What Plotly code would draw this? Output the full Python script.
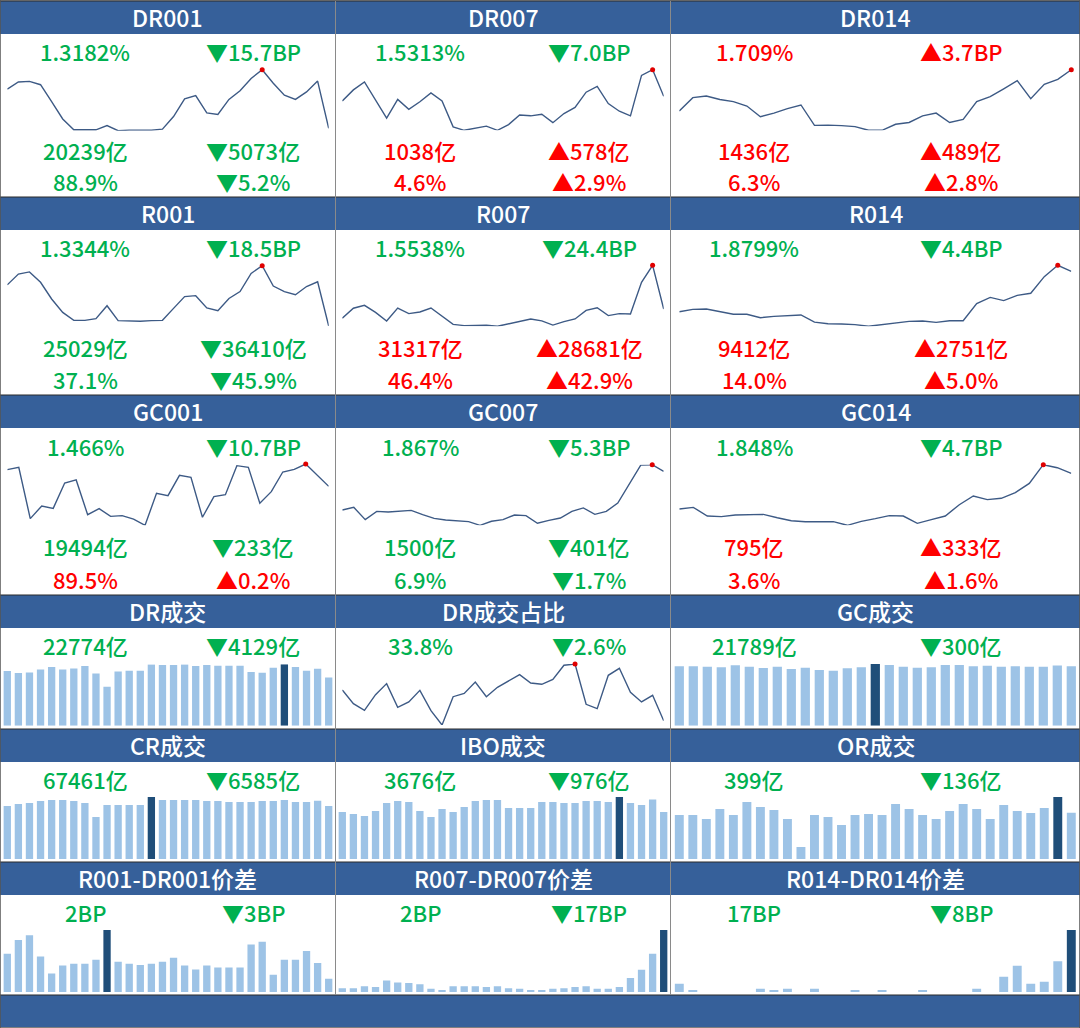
import plotly.graph_objects as go

W, H = 1080, 1028

# ---------------- data ----------------
titles = [["DR001", "DR007", "DR014"],
          ["R001", "R007", "R014"],
          ["GC001", "GC007", "GC014"],
          ["DR成交", "DR成交占比", "GC成交"],
          ["CR成交", "IBO成交", "OR成交"],
          ["R001-DR001价差", "R007-DR007价差", "R014-DR014价差"]]

dr001 = [1.448, 1.472, 1.474, 1.463, 1.407, 1.349, 1.313, 1.313, 1.313, 1.327,
         1.310, 1.312, 1.312, 1.312, 1.315, 1.357, 1.416, 1.427, 1.369, 1.364,
         1.414, 1.443, 1.484, 1.513, 1.468, 1.428, 1.414, 1.439, 1.475, 1.3182]
dr007 = [1.519, 1.548, 1.569, 1.522, 1.474, 1.523, 1.497, 1.517, 1.540, 1.519,
         1.451, 1.442, 1.447, 1.453, 1.442, 1.457, 1.482, 1.480, 1.484, 1.462,
         1.486, 1.502, 1.542, 1.557, 1.512, 1.492, 1.480, 1.586, 1.601, 1.5313]
dr014 = [1.551, 1.602, 1.608, 1.595, 1.587, 1.570, 1.529, 1.543, 1.560, 1.574,
         1.496, 1.497, 1.495, 1.491, 1.477, 1.477, 1.500, 1.507, 1.532, 1.543,
         1.507, 1.519, 1.587, 1.606, 1.636, 1.667, 1.598, 1.653, 1.672, 1.709]
r001 = [1.506, 1.551, 1.560, 1.517, 1.447, 1.391, 1.358, 1.358, 1.365, 1.419,
        1.357, 1.354, 1.354, 1.357, 1.358, 1.408, 1.457, 1.461, 1.410, 1.398,
        1.449, 1.478, 1.554, 1.586, 1.501, 1.478, 1.465, 1.499, 1.519, 1.3344]
r007 = [1.502, 1.558, 1.574, 1.535, 1.487, 1.559, 1.528, 1.537, 1.559, 1.515,
        1.468, 1.461, 1.463, 1.463, 1.457, 1.472, 1.487, 1.498, 1.487, 1.464,
        1.483, 1.498, 1.546, 1.561, 1.517, 1.528, 1.526, 1.703, 1.798, 1.5538]
r014 = [1.584, 1.601, 1.604, 1.584, 1.565, 1.565, 1.540, 1.550, 1.555, 1.560,
        1.508, 1.496, 1.494, 1.489, 1.477, 1.489, 1.501, 1.513, 1.516, 1.506,
        1.518, 1.518, 1.643, 1.689, 1.665, 1.704, 1.719, 1.841, 1.924, 1.8799]
gc001 = [1.628, 1.651, 1.152, 1.275, 1.252, 1.498, 1.528, 1.190, 1.249, 1.174,
         1.181, 1.148, 1.087, 1.398, 1.375, 1.573, 1.554, 1.165, 1.366, 1.385,
         1.667, 1.651, 1.301, 1.414, 1.605, 1.631, 1.683, 1.573, 1.466]
gc007 = [1.560, 1.581, 1.483, 1.549, 1.544, 1.549, 1.557, 1.523, 1.493, 1.480,
         1.472, 1.467, 1.438, 1.470, 1.483, 1.520, 1.515, 1.454, 1.477, 1.496,
         1.549, 1.576, 1.525, 1.549, 1.615, 1.769, 1.917, 1.920, 1.867]
gc014 = [1.552, 1.566, 1.494, 1.489, 1.502, 1.502, 1.508, 1.480, 1.455, 1.447,
         1.447, 1.447, 1.417, 1.450, 1.472, 1.497, 1.494, 1.433, 1.464, 1.494,
         1.588, 1.660, 1.630, 1.641, 1.688, 1.765, 1.920, 1.895, 1.848]
dr_share = [36.95, 35.54, 34.86, 36.47, 37.60, 35.17, 35.72, 36.91, 34.83, 33.36,
            36.26, 36.60, 37.77, 36.26, 37.22, 37.90, 38.52, 37.66, 37.53, 38.04,
            39.48, 39.61, 35.48, 35.03, 38.45, 39.17, 36.71, 35.72, 36.40, 33.80]

dr_vol = [25748, 24806, 25120, 26533, 27632, 26533, 27004, 28103, 24649, 18369,
          25591, 25905, 25905, 28888, 28574, 28574, 28888, 28103, 28574, 28260,
          28260, 28260, 25277, 24963, 27318, 28950, 27632, 25905, 26903, 22774]
gc_vol = [21787, 21787, 21665, 21420, 22154, 21665, 21175, 21665, 20808, 21298,
          20441, 20196, 21053, 21420, 22644, 22277, 21665, 21298, 21420, 22277,
          22277, 21787, 22032, 21665, 21787, 21665, 21665, 22089, 21789]
cr_vol = [67470, 70015, 71288, 73834, 75107, 75107, 73834, 71288, 53466, 68742,
          68742, 68742, 68742, 78926, 75107, 75107, 75107, 75107, 73834, 73834,
          72561, 72561, 72561, 73834, 73834, 75107, 72561, 72561, 74046, 67461]
ibo_vol = [3675, 3519, 3363, 3754, 4379, 4536, 4457, 3754, 3284, 3910,
           3675, 4066, 4536, 4614, 4614, 3988, 3988, 3988, 4457, 4457,
           4379, 4379, 4536, 4536, 4457, 4848, 4379, 4223, 4652, 3676]
or_vol = [380, 380, 345, 432, 380, 492, 449, 423, 345, 104,
          380, 362, 293, 380, 388, 380, 475, 432, 380, 345,
          414, 475, 432, 345, 466, 414, 397, 440, 535, 399]
spr_1 = [5.8, 7.9, 8.6, 5.4, 2.8, 4.0, 4.3, 4.3, 4.9, 9.4,
         4.6, 4.3, 4.1, 4.3, 4.6, 5.2, 4.0, 3.4, 4.0, 3.7,
         3.7, 3.7, 7.2, 7.6, 2.6, 4.9, 4.9, 6.2, 4.4, 2.0]
spr_7 = [0.6, 0.6, 0.9, 0.8, 1.8, 1.5, 1.4, 1.2, 0.5, 0.3,
         0.9, 0.9, 0.9, 0.8, 0.9, 0.6, 0.5, 0.2, 0.3, 0.5,
         0.6, 0.8, 0.9, 0.5, 0.5, 0.8, 2.2, 3.5, 6.0, 9.7]
spr_14 = [1.3, 0.2, 0.0, 0.0, 0.0, 0.0, 0.5, 0.3, 0.5, 0.0,
          0.5, 0.0, 0.0, 0.3, 0.0, 0.2, 0.0, 0.0, 0.3, 0.0,
          0.0, 0.0, 0.5, 0.0, 2.4, 4.1, 1.3, 1.6, 4.8, 9.7]

# labels: (text, colour) -> 'g' green, 'r' red
labels = {
    (0, 0): [("1.3182%", "g"), ("▼15.7BP", "g"), ("20239亿", "g"), ("▼5073亿", "g"), ("88.9%", "g"), ("▼5.2%", "g")],
    (0, 1): [("1.5313%", "g"), ("▼7.0BP", "g"), ("1038亿", "r"), ("▲578亿", "r"), ("4.6%", "r"), ("▲2.9%", "r")],
    (0, 2): [("1.709%", "r"), ("▲3.7BP", "r"), ("1436亿", "r"), ("▲489亿", "r"), ("6.3%", "r"), ("▲2.8%", "r")],
    (1, 0): [("1.3344%", "g"), ("▼18.5BP", "g"), ("25029亿", "g"), ("▼36410亿", "g"), ("37.1%", "g"), ("▼45.9%", "g")],
    (1, 1): [("1.5538%", "g"), ("▼24.4BP", "g"), ("31317亿", "r"), ("▲28681亿", "r"), ("46.4%", "r"), ("▲42.9%", "r")],
    (1, 2): [("1.8799%", "g"), ("▼4.4BP", "g"), ("9412亿", "r"), ("▲2751亿", "r"), ("14.0%", "r"), ("▲5.0%", "r")],
    (2, 0): [("1.466%", "g"), ("▼10.7BP", "g"), ("19494亿", "g"), ("▼233亿", "g"), ("89.5%", "r"), ("▲0.2%", "r")],
    (2, 1): [("1.867%", "g"), ("▼5.3BP", "g"), ("1500亿", "g"), ("▼401亿", "g"), ("6.9%", "g"), ("▼1.7%", "g")],
    (2, 2): [("1.848%", "g"), ("▼4.7BP", "g"), ("795亿", "r"), ("▲333亿", "r"), ("3.6%", "r"), ("▲1.6%", "r")],
    (3, 0): [("22774亿", "g"), ("▼4129亿", "g")],
    (3, 1): [("33.8%", "g"), ("▼2.6%", "g")],
    (3, 2): [("21789亿", "g"), ("▼300亿", "g")],
    (4, 0): [("67461亿", "g"), ("▼6585亿", "g")],
    (4, 1): [("3676亿", "g"), ("▼976亿", "g")],
    (4, 2): [("399亿", "g"), ("▼136亿", "g")],
    (5, 0): [("2BP", "g"), ("▼3BP", "g")],
    (5, 1): [("2BP", "g"), ("▼17BP", "g")],
    (5, 2): [("17BP", "g"), ("▼8BP", "g")],
}

# ---------------- style / layout ----------------
GREEN = "#00B050"
RED = "#FF0000"
HEAD = "#36609A"
LINEC = "#3D5A85"
LIGHT = "#9DC3E6"
DARK = "#1F4E79"
FONT = "Noto Sans CJK SC"

cols = [(0, 335), (336, 670), (671, 1080)]
text_x = [(85, 253), (420, 589), (754, 961)]
head_rows = [(1, 34), (197, 230), (395, 428), (595, 628), (729, 762), (862, 895)]
text_rows = [(50.5, 149.5, 180.5), (246.5, 346.5, 378.5), (445.5, 545.5, 578.5),
             (644.5,), (778.5,), (911.5,)]
line_x = [(7.3, 328.7), (342.3, 663.7), (679.3, 1071.3)]

fig = go.Figure()
axn = [0]


def px(x):
    return x / W


def py(y):
    return 1 - y / H


def new_axes(xdom, ydom, xr, yr):
    axn[0] += 1
    k = axn[0]
    s = "" if k == 1 else str(k)
    fig.update_layout(**{
        "xaxis" + s: dict(domain=xdom, range=xr, visible=False, fixedrange=True),
        "yaxis" + s: dict(domain=ydom, range=yr, visible=False, fixedrange=True),
    })
    return "x" + s, "y" + s


def add_line(vals, c, ytop, ybot):
    n = len(vals)
    mx, mn = max(vals), min(vals)
    x0, x1 = line_x[c]
    xa, ya = new_axes([px(x0), px(x1)], [py(ybot), py(ytop)], [0, n - 1], [mn, mx])
    fig.add_trace(go.Scatter(x=list(range(n)), y=vals, mode="lines",
                             line=dict(color=LINEC, width=1.4), xaxis=xa, yaxis=ya,
                             cliponaxis=False, hoverinfo="skip", showlegend=False))
    im = vals.index(mx)
    fig.add_trace(go.Scatter(x=[im], y=[mx], mode="markers",
                             marker=dict(color="#E00000", size=5), xaxis=xa, yaxis=ya,
                             cliponaxis=False, hoverinfo="skip", showlegend=False))


def add_bars(vals, c, ytop, ybase):
    n = len(vals)
    x0, x1 = line_x[c]
    sp = (x1 - x0) / (n - 1)
    mx = max(vals)
    im = vals.index(mx)
    colors = [DARK if i == im else LIGHT for i in range(n)]
    xa, ya = new_axes([px(x0 - sp / 2), px(x1 + sp / 2)], [py(ybase), py(ytop)],
                      [-0.5, n - 0.5], [0, mx])
    fig.add_trace(go.Bar(x=list(range(n)), y=vals, marker=dict(color=colors, line=dict(width=0)),
                         width=0.66, xaxis=xa, yaxis=ya, hoverinfo="skip", showlegend=False))


# line charts rows 0-2
add_line(dr001, 0, 69.7, 130.7)
add_line(dr007, 1, 69.7, 130.3)
add_line(dr014, 2, 69.7, 130.3)
add_line(r001, 0, 265.7, 326.0)
add_line(r007, 1, 265.3, 326.3)
add_line(r014, 2, 265.3, 326.3)
add_line(gc001, 0, 464.0, 525.3)
add_line(gc007, 1, 464.7, 525.3)
add_line(gc014, 2, 464.7, 525.3)
# row 3
add_bars(dr_vol, 0, 664.3, 725.7)
add_line(dr_share, 1, 664.0, 725.0)
add_bars(gc_vol, 2, 664.0, 725.7)
# row 4
add_bars(cr_vol, 0, 797.0, 859.0)
add_bars(ibo_vol, 1, 797.0, 859.0)
add_bars(or_vol, 2, 797.0, 859.0)
# row 5
add_bars(spr_1, 0, 930.0, 992.0)
add_bars(spr_7, 1, 930.0, 992.0)
add_bars(spr_14, 2, 930.0, 992.0)

shapes = []
annos = []


def anno(text, x, y, color, size=22):
    annos.append(dict(text=text, x=px(x), y=py(y), xref="paper", yref="paper", showarrow=False,
                      xanchor="center", yanchor="middle",
                      font=dict(family=FONT, size=size, color=color, weight=500)))


# headers
for r, (y0, y1) in enumerate(head_rows):
    for c, (x0, x1) in enumerate(cols):
        shapes.append(dict(type="rect", xref="paper", yref="paper", x0=px(x0), x1=px(x1),
                           y0=py(y1), y1=py(y0), fillcolor=HEAD, line=dict(width=0), layer="below"))
        anno(titles[r][c], (x0 + x1) / 2, (y0 + y1) / 2 - 0.5, "white", size=23)
    shapes.append(dict(type="line", xref="paper", yref="paper", x0=0, x1=1, y0=py(y0), y1=py(y0),
                       line=dict(color="#2B2B2B", width=1.2)))
# bottom bar
shapes.append(dict(type="rect", xref="paper", yref="paper", x0=0, x1=1, y0=py(1027), y1=py(995),
                   fillcolor=HEAD, line=dict(width=0), layer="below"))
shapes.append(dict(type="line", xref="paper", yref="paper", x0=0, x1=1, y0=py(995), y1=py(995),
                   line=dict(color="#2B2B2B", width=1.2)))
# vertical separators
for xv in (335.5, 670.5):
    shapes.append(dict(type="line", xref="paper", yref="paper", x0=px(xv), x1=px(xv),
                       y0=py(995), y1=py(1), line=dict(color="#8A8A8A", width=1)))
# outer border
shapes.append(dict(type="rect", xref="paper", yref="paper", x0=0, x1=1, y0=0, y1=1,
                   line=dict(color="#555555", width=1.5)))

# value labels
for (r, c), items in labels.items():
    ys = text_rows[r]
    for i, (t, col) in enumerate(items):
        anno(t, text_x[c][i % 2], ys[i // 2], GREEN if col == "g" else RED)

fig.update_layout(width=W, height=H, margin=dict(l=0, r=0, t=0, b=0),
                  paper_bgcolor="white", plot_bgcolor="rgba(0,0,0,0)",
                  shapes=shapes, annotations=annos, bargap=0.3, showlegend=False)

fig.write_html("out.html", config={"displayModeBar": False})
